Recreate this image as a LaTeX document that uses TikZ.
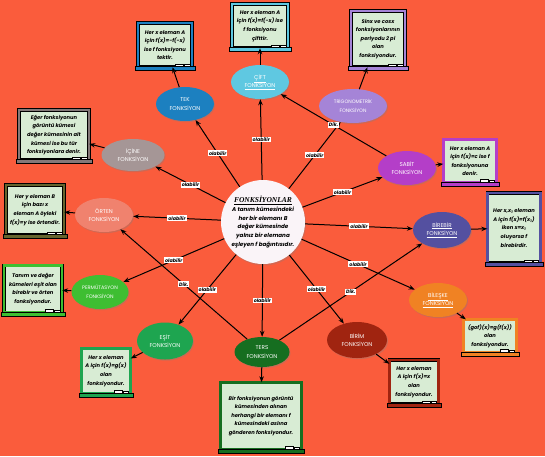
\documentclass[tikz,border=0pt]{standalone}
\usepackage{fontspec}
\setmainfont{Poppins}
\newfontfamily\titlefont{Liberation Serif}
\usetikzlibrary{arrows.meta,shapes.geometric,shadows}

\definecolor{bg}{RGB}{250,92,60}
\definecolor{chalk}{RGB}{216,236,212}
\definecolor{tekc}{RGB}{28,128,192}
\definecolor{ciftc}{RGB}{95,200,225}
\definecolor{trigc}{RGB}{165,132,215}
\definecolor{sabitc}{RGB}{180,62,200}
\definecolor{birebirc}{RGB}{84,80,160}
\definecolor{bileskec}{RGB}{240,130,35}
\definecolor{birimc}{RGB}{160,36,16}
\definecolor{tersc}{RGB}{22,110,32}
\definecolor{esitc}{RGB}{30,165,80}
\definecolor{permc}{RGB}{62,190,50}
\definecolor{ortenc}{RGB}{240,130,110}
\definecolor{icinec}{RGB}{165,150,150}
\definecolor{centc}{RGB}{250,244,248}

% shelf under a board: #1 board node, #2 colour
\newcommand{\ledge}[2]{%
  \draw[fill=#2, line width=0.45pt] ([xshift=-2.5pt,yshift=1pt]#1.south west) rectangle ([xshift=2.5pt,yshift=-3pt]#1.south east);
  \draw[fill=white, line width=0.3pt] ([xshift=-17pt,yshift=1pt]#1.south east) rectangle ([xshift=-9pt,yshift=3.5pt]#1.south east);
  \draw[fill=white, line width=0.3pt] ([xshift=-8pt,yshift=1pt]#1.south east) rectangle ([xshift=-2.5pt,yshift=3pt]#1.south east);
}

\begin{document}
\begin{tikzpicture}[x=1pt, y=-1pt,
  fn/.style={ellipse, fill=#1, text=white, minimum width=58pt, minimum height=34pt, inner sep=0pt, align=center,
    font=\fontsize{5.6}{8.6}\selectfont, drop shadow={opacity=0.35, shadow xshift=1pt, shadow yshift=-1.2pt}},
  board/.style={rectangle, draw=black, double=#1, double distance=2.2pt, line width=0.45pt, fill=chalk, align=center,
    inner sep=1pt, font=\bfseries\itshape\fontsize{5.2}{8.6}\selectfont},
  lbl/.style={fill=white, inner sep=1pt, font=\bfseries\itshape\fontsize{4.8}{5}\selectfont},
  arr/.style={-{Stealth[length=6pt,width=4.5pt]}, line width=1pt},
]
  \fill[bg] (0,0) rectangle (545,456);
  \useasboundingbox (0,0) rectangle (545,456);

  % Centre
  \node[circle, fill=centc, minimum size=84pt, inner sep=0pt, align=center,
    font=\bfseries\itshape\fontsize{5.6}{8.7}\selectfont,
    drop shadow={opacity=0.3, shadow xshift=1pt, shadow yshift=-1.5pt}] (fonk) at (263,222)
    {{\titlefont\fontsize{7.5}{9}\selectfont\underline{FONKSİYONLAR}}\\A tanım kümesindeki\\her bir elemanı B\\değer kümesinde\\yalnız bir elemana\\eşleyen f bağıntısıdır.};

  % Function kinds
  \node[fn=ciftc] (cift) at (260,82) {\underline{ÇİFT}\\\underline{FONKSİYON}};
  \node[fn=tekc] (tek) at (185,104) {TEK\\FONKSİYON};
  \node[fn=trigc, minimum width=68pt, font=\fontsize{4.9}{8.4}\selectfont] (trig) at (353,106) {TRİGONOMETRİK\\FONKSİYON};
  \node[fn=sabitc] (sabit) at (407,168) {SABİT\\FONKSİYON};
  \node[fn=birebirc, minimum height=36pt] (birebir) at (442,230) {\underline{BİREBİR}\\\underline{FONKSİYON}};
  \node[fn=bileskec] (bileske) at (438,300) {\underline{BİLEŞKE}\\\underline{FONKSİYON}};
  \node[fn=birimc, minimum width=60pt, minimum height=36pt] (birim) at (357,340) {BİRİM\\FONKSİYON};
  \node[fn=tersc, minimum width=55pt, minimum height=30pt] (ters) at (262,352) {TERS\\FONKSİYON};
  \node[fn=esitc, minimum width=56pt, minimum height=37pt] (esit) at (165,341) {EŞİT\\FONKSİYON};
  \node[fn=permc, minimum width=57pt, font=\fontsize{5}{8.4}\selectfont] (perm) at (100,292) {PERMÜTASYON\\FONKSİYON};
  \node[fn=ortenc] (orten) at (104,215) {ÖRTEN\\FONKSİYON};
  \node[fn=icinec, minimum width=63pt, minimum height=32pt] (icine) at (133,155) {İÇİNE\\FONKSİYON};

  % Boards
  \node[board=tekc, minimum width=54pt, minimum height=44pt] (tekb) at (165,45) {Her x eleman A\\için f(x)=-f(-x)\\ise f fonksiyonu\\tektir.};
  \node[board=ciftc, minimum width=56pt, minimum height=44pt] (ciftb) at (260,26) {Her x eleman A\\için f(x)=f(-x) ise\\f fonksiyonu\\çifttir.};
  \node[board=trigc, minimum width=54pt, minimum height=56pt] (trigb) at (378,39) {Sinx ve cosx\\fonksiyonlarının\\periyodu 2 pi\\olan\\fonksiyondur.};
  \node[board=sabitc, minimum width=53pt, minimum height=43pt] (sabitb) at (470,161) {Her x eleman A\\için f(x)=c ise f\\fonksiyonuna\\denir.};
  \node[board=birebirc, minimum width=53pt, minimum height=70pt] (birebirb) at (514,228) {Her x,x\textsubscript{1} eleman\\A için f(x)=f(x\textsubscript{1})\\iken x=x\textsubscript{1}\\oluyorsa f\\birebirdir.};
  \node[board=bileskec, minimum width=53pt, minimum height=33pt] (bileskeb) at (490,336) {(gof)(x)=g(f(x))\\olan\\fonksiyondur.};
  \node[board=birimc, minimum width=49pt, minimum height=44pt] (birimb) at (414,382) {Her x eleman\\A için f(x)=x\\olan\\fonksiyondur.};
  \node[board=tersc, minimum width=81pt, minimum height=67pt] (tersb) at (261,416) {Bir fonksiyonun görüntü\\kümesinden alınan\\herhangi bir elemanı f\\kümesindeki aslına\\gönderen fonksiyondur.};
  \node[board=esitc, minimum width=49pt, minimum height=45pt] (esitb) at (106,371) {Her x eleman\\A için f(x)=g(x)\\olan\\fonksiyondur.};
  \node[board=permc, minimum width=58pt, minimum height=47pt] (permb) at (33,289) {Tanım ve değer\\kümeleri eşit olan\\birebir ve örten\\fonksiyondur.};
  \node[board=ortenc!70!green!60!black, minimum width=58pt, minimum height=50pt] (ortenb) at (35,210) {Her y eleman B\\için bazı x\\eleman A öyleki\\f(x)=y ise örtendir.};
  \node[board=icinec!80!black, minimum width=70pt, minimum height=50pt] (icineb) at (54,135) {Eğer fonksiyonun\\görüntü kümesi\\değer kümesinin alt\\kümesi ise bu tür\\fonksiyonlara denir.};

  \ledge{tekb}{tekc}
  \ledge{ciftb}{ciftc}
  \ledge{trigb}{trigc}
  \ledge{sabitb}{sabitc}
  \ledge{birebirb}{birebirc}
  \ledge{bileskeb}{bileskec}
  \ledge{birimb}{birimc}
  \ledge{tersb}{tersc}
  \ledge{esitb}{esitc}
  \ledge{permb}{permc}
  \ledge{ortenb}{ortenc!70!green!60!black}
  \ledge{icineb}{icinec!80!black}

  % Kind to board
  \draw[arr] (tek) -- (tekb);
  \draw[arr] (cift) -- (ciftb);
  \draw[arr] (trig) -- (trigb);
  \draw[arr] (sabit) -- (sabitb);
  \draw[arr] (birebir) -- (birebirb);
  \draw[arr] (bileske) -- (bileskeb);
  \draw[arr] (birim) -- (birimb);
  \draw[arr] (ters) -- (tersb);
  \draw[arr] (esit) -- (esitb);
  \draw[arr] (perm) -- (permb);
  \draw[arr] (orten) -- (ortenb);
  \draw[arr] (icine) -- (icineb);

  % Centre to kinds
  \draw[arr] (fonk) -- node[lbl]{olabilir} (cift);
  \draw[arr] (fonk) -- node[lbl]{olabilir} (tek);
  \draw[arr] (fonk) -- node[lbl]{olabilir} (trig);
  \draw[arr] (fonk) -- node[lbl]{olabilir} (sabit);
  \draw[arr] (fonk) -- node[lbl]{olabilir} (birebir);
  \draw[arr] (fonk) -- node[lbl]{olabilir} (bileske);
  \draw[arr] (fonk) -- node[lbl]{olabilir} (birim);
  \draw[arr] (fonk) -- node[lbl]{olabilir} (ters);
  \draw[arr] (fonk) -- node[lbl]{olabilir} (esit);
  \draw[arr] (fonk) -- node[lbl]{olabilir} (perm);
  \draw[arr] (fonk) -- node[lbl]{olabilir} (orten);
  \draw[arr] (fonk) -- node[lbl]{olabilir} (icine);

  % Dik. links
  \draw[arr] (sabit) -- node[lbl]{Dik.} (cift);
  \draw[arr] (ters) -- node[lbl]{Dik.} (orten);
  \draw[arr] (ters) -- node[lbl]{Dik.} (birebir);
\end{tikzpicture}
\end{document}
